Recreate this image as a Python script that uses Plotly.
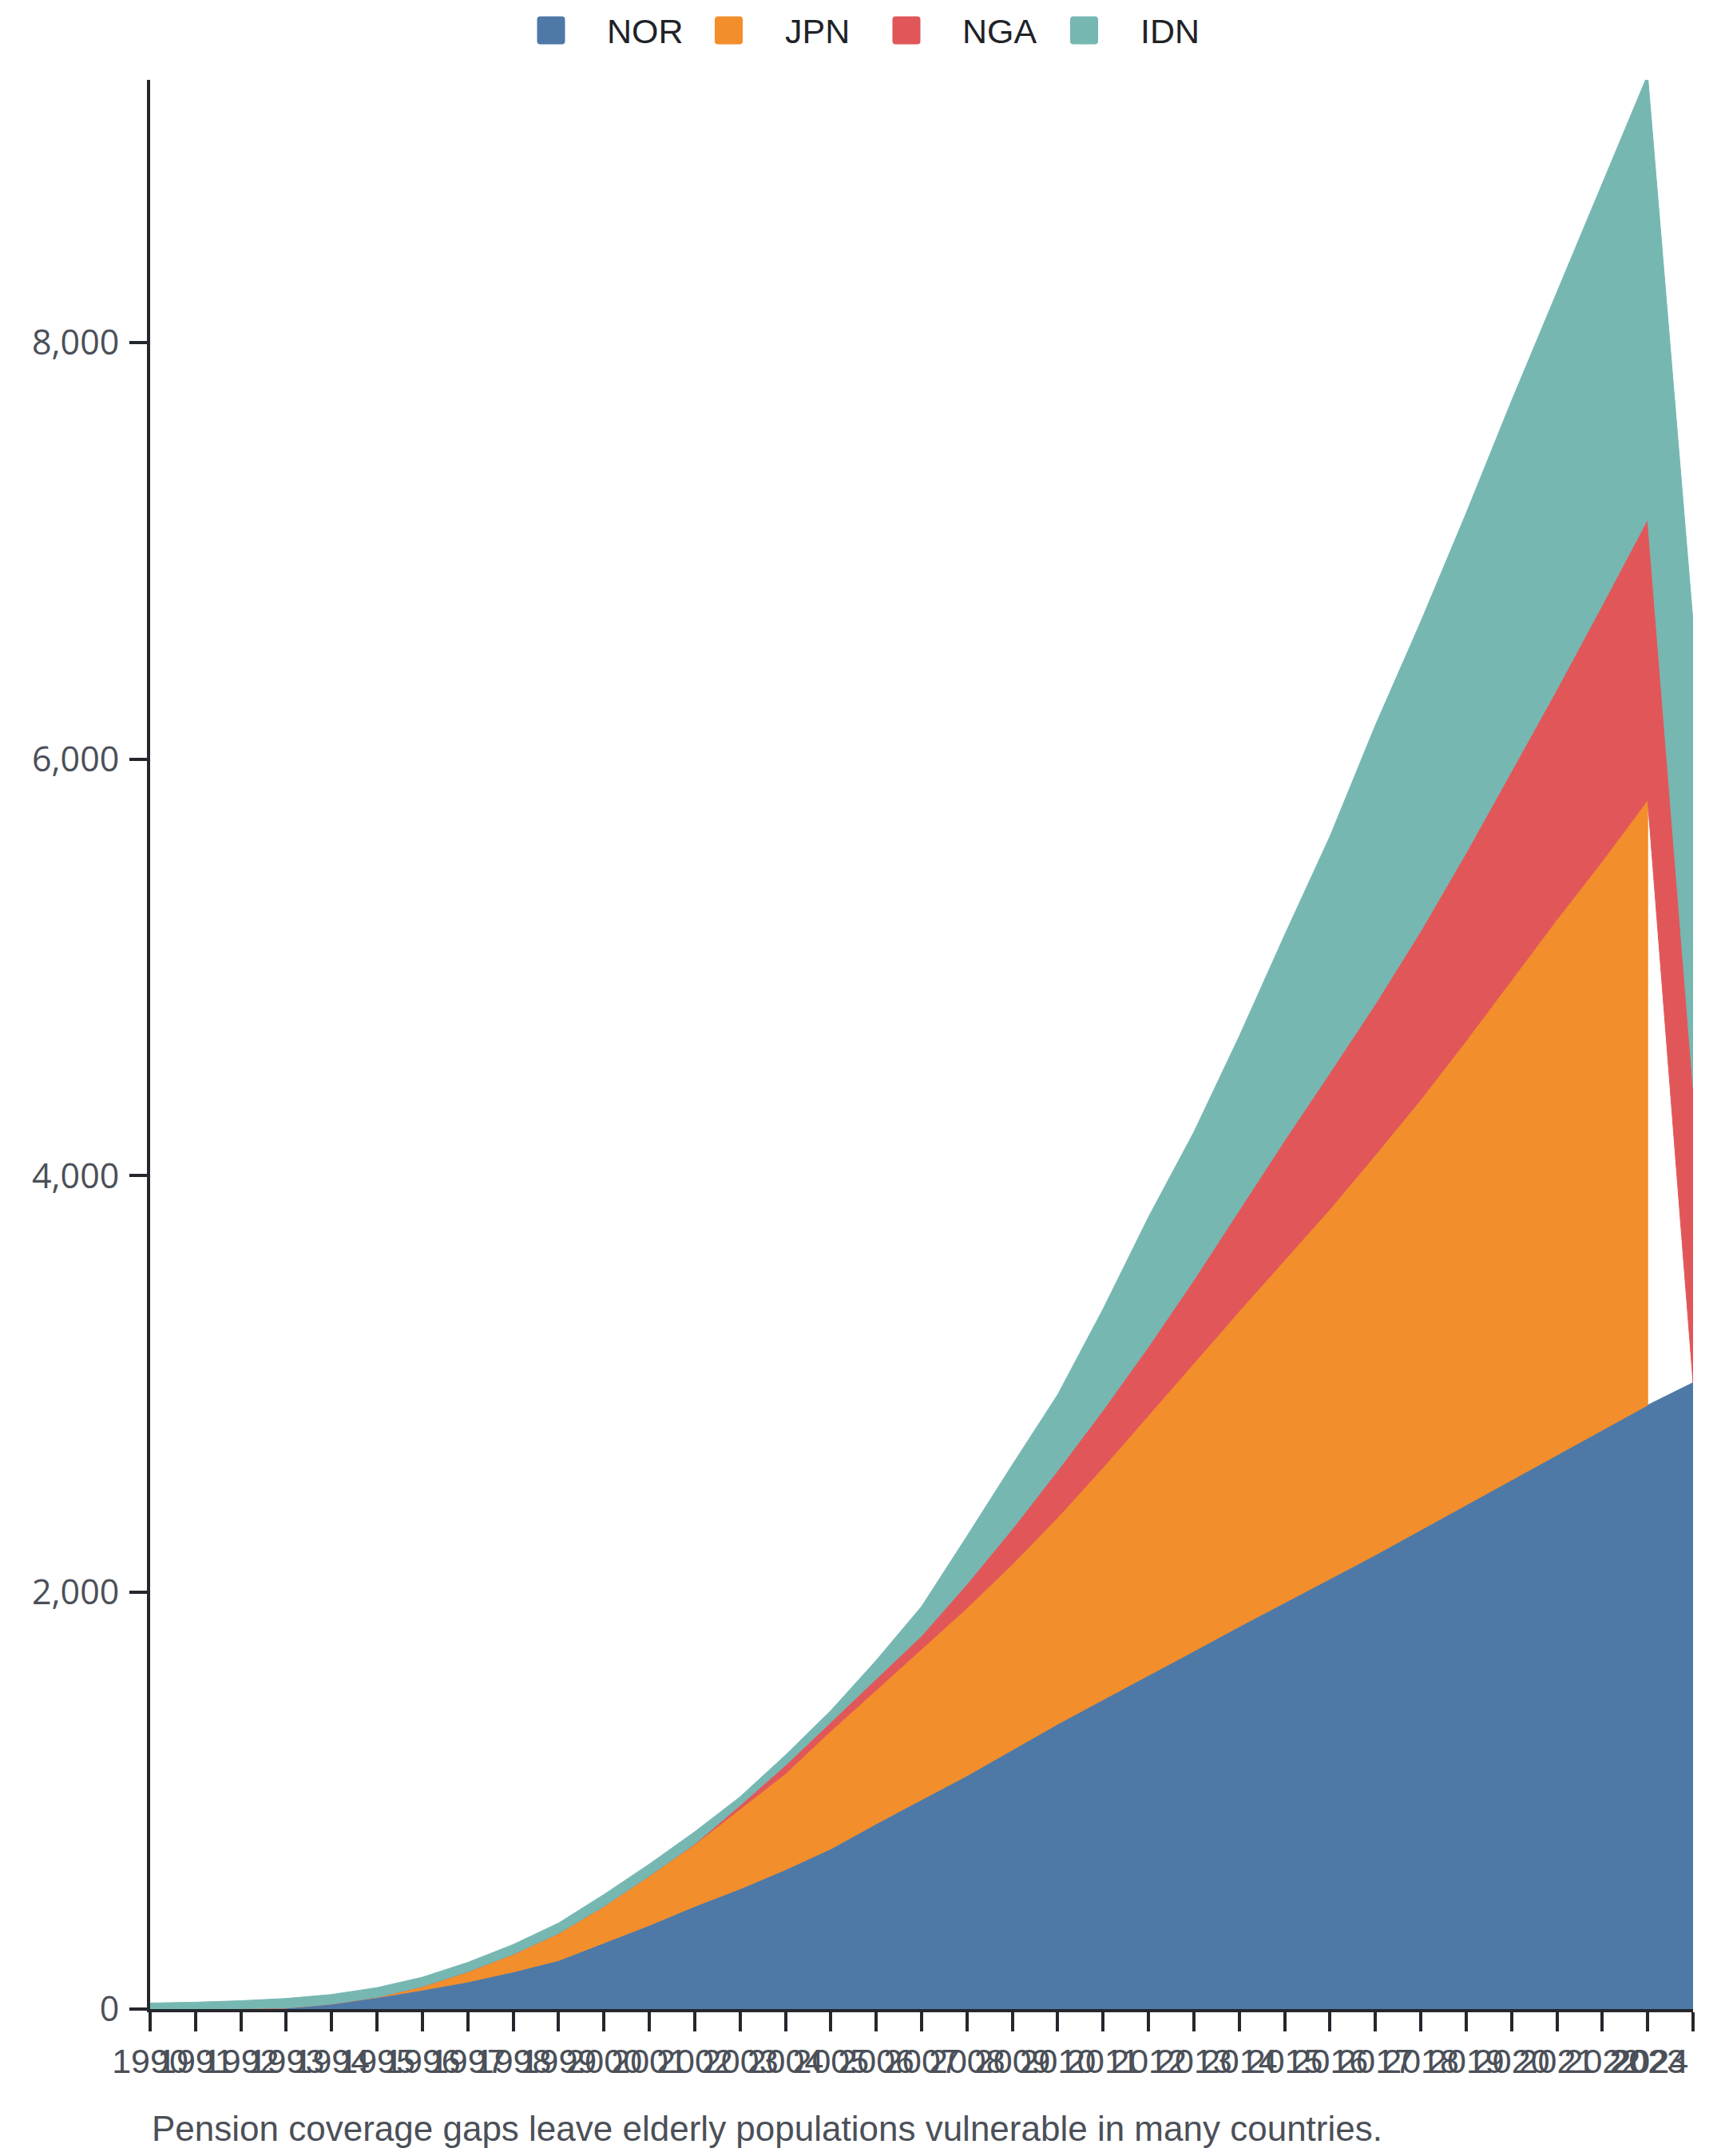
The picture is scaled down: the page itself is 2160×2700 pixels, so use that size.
import plotly.graph_objects as go
import numpy as np

# Years on the x axis
years = list(range(1990, 2025))

# Series values (JPN has no 2024 value)
NOR = [0, 0, 2, 5, 24, 55, 91, 130, 178, 233,
       318, 402, 493, 577, 669, 769, 889, 1005, 1120, 1245,
       1368, 1485, 1600, 1718, 1836, 1952, 2065, 2180, 2300, 2420,
       2540, 2659, 2779, 2899, 3007]
JPN = [0, 0, 0, 0, 0, 2, 17, 49, 85, 130,
       175, 237, 297, 383, 461, 566, 642, 722, 805, 890,
       992, 1115, 1250, 1382, 1514, 1643, 1775, 1920, 2066, 2228,
       2400, 2571, 2731, 2905, None]
NGA = [0, 0, 0, 0, 0, 0, 0, 0, 0, 0,
       0, 0, 2, 18, 40, 42, 54, 65, 115, 170,
       225, 275, 330, 400, 485, 575, 655, 725, 809, 902,
       1000, 1105, 1230, 1348, 1419]
IDN = [29, 33, 38, 46, 46, 46, 45, 45, 47, 50,
       57, 57, 59, 41, 49, 56, 89, 141, 230, 308,
       365, 486, 622, 710, 835, 986, 1135, 1338, 1485, 1631,
       1780, 1907, 2029, 2133, 2234]

series_names = ["NOR", "JPN", "NGA", "IDN"]
series_values = [NOR, JPN, NGA, IDN]
colors = ["#4e79a7", "#f28e2b", "#e15759", "#76b7b2"]
caption = "Pension coverage gaps leave elderly populations vulnerable in many countries."

y_max = 9261
yticks = [0, 2000, 4000, 6000, 8000]
xlabels = [str(y) for y in years]
xlabels[-1] = "2024" + "\u00a0" * 9  # last label sits flush against the axis end

TEXT = "#4b5058"
AXIS = "#24272c"

# figure size (the page body keeps its 8px margin) and plot margins
W, H = 2144, 2684
ML, MR, MT, MB = 180, 32, 92, 176
PW, PH = W - ML - MR, H - MT - MB


def paper_x(px):
    return (px - ML) / PW


def paper_y(py):
    return 1 - (py - MT) / PH


fig = go.Figure()

# stack the series by hand so a missing year is left out instead of zero-filled
x = np.array(years)
base = np.zeros(len(years))
for name, vals, col in zip(series_names, series_values, colors):
    v = np.array([np.nan if a is None else a for a in vals], dtype=float)
    ok = ~np.isnan(v)
    top = base + np.nan_to_num(v)
    xs = list(x[ok]) + list(x[ok][::-1])
    ys = list(top[ok]) + list(base[ok][::-1])
    fig.add_trace(go.Scatter(
        x=xs, y=ys, mode="lines", fill="toself", fillcolor=col, name=name,
        line=dict(color=col, width=1), hoverinfo="skip", showlegend=False,
    ))
    base = top

# legend drawn as rounded swatches + labels across the top
shapes, annotations = [], []
sq = ("M -13.5,-17.5 L 13.5,-17.5 Q 17.5,-17.5 17.5,-13.5 L 17.5,13.5 "
      "Q 17.5,17.5 13.5,17.5 L -13.5,17.5 Q -17.5,17.5 -17.5,13.5 "
      "L -17.5,-13.5 Q -17.5,-17.5 -13.5,-17.5 Z")
for i, (name, col) in enumerate(zip(series_names, colors)):
    cx = 682 + i * 222.5
    shapes.append(dict(
        type="path", xref="paper", yref="paper", xsizemode="pixel", ysizemode="pixel",
        xanchor=paper_x(cx), yanchor=paper_y(30), path=sq,
        fillcolor=col, line=dict(width=0), layer="above",
    ))
    annotations.append(dict(
        text=name, xref="paper", yref="paper", x=paper_x(cx + 68), y=paper_y(31),
        xanchor="left", yanchor="middle", showarrow=False,
        font=dict(family="Liberation Sans, Arial", size=43, color="#1f2328"),
    ))

annotations.append(dict(
    text=caption, xref="paper", x=0, xanchor="left",
    yref="paper", y=paper_y(2657), yanchor="middle", showarrow=False,
    font=dict(family="Liberation Sans, Arial", size=44, color=TEXT),
))

fig.update_layout(
    width=W, height=H,
    margin=dict(l=ML, r=MR, t=MT, b=MB, pad=0),
    paper_bgcolor="white", plot_bgcolor="white",
    showlegend=False,
    shapes=shapes,
    annotations=annotations,
)

fig.update_xaxes(
    range=[1990, 2024], tickvals=years, ticktext=xlabels, tickangle=0,
    showline=True, linewidth=4, linecolor=AXIS,
    ticks="outside", ticklen=24, tickwidth=4, tickcolor=AXIS,
    tickfont=dict(family="Liberation Sans, Arial", size=43, color=TEXT),
    ticklabeloverflow="allow", automargin=False,
    showgrid=False, zeroline=False,
)
fig.update_yaxes(
    range=[0, y_max], tickvals=yticks, tickformat=",d",
    showline=True, linewidth=4, linecolor=AXIS,
    ticks="outside", ticklen=22, tickwidth=4, tickcolor=AXIS,
    tickfont=dict(family="Open Sans", size=43, color=TEXT),
    ticklabelstandoff=4, automargin=False,
    showgrid=False, zeroline=False,
)

fig.write_html("out.html")
